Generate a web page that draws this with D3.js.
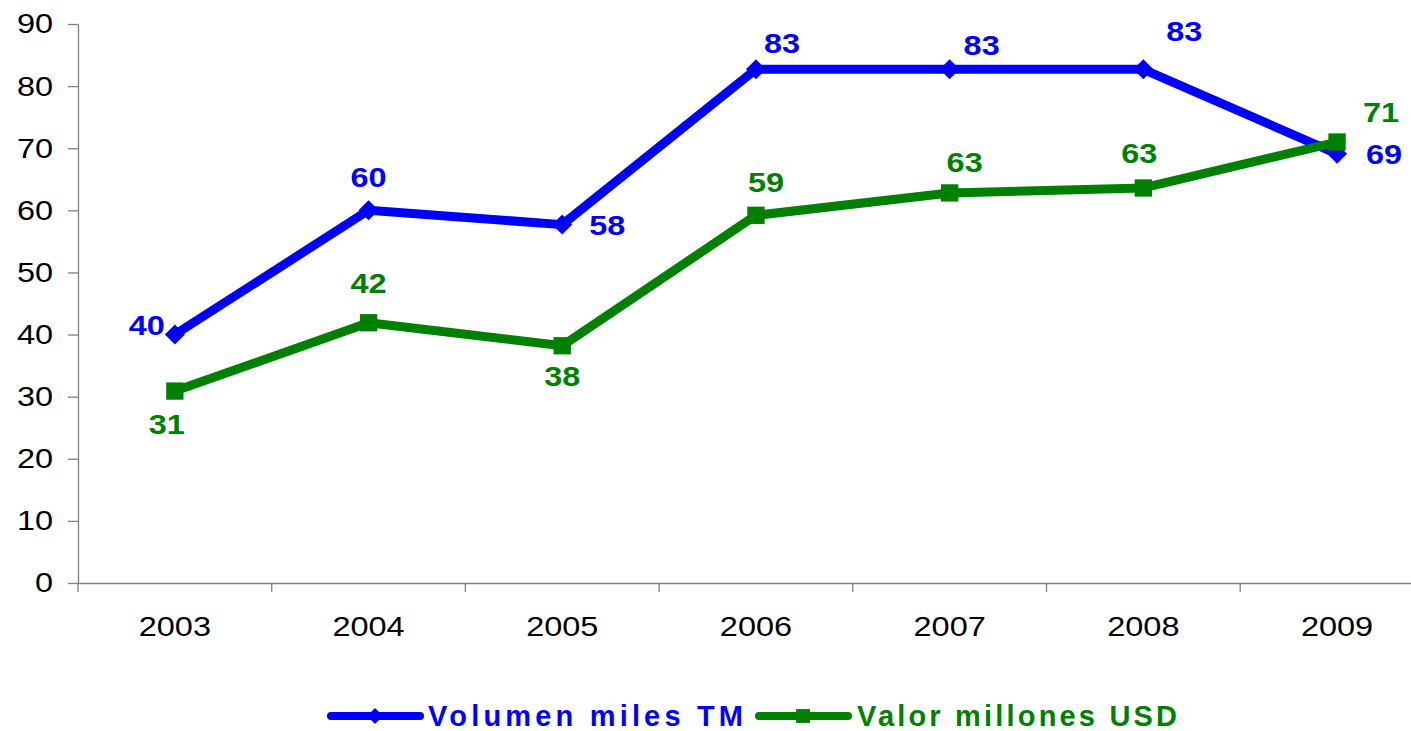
<!DOCTYPE html>
<html>
<head>
<meta charset="utf-8">
<script src="https://d3js.org/d3.v7.min.js"></script>
<style>
  body { margin: 0; background: #fff; }
  svg text { font-family: "Liberation Sans", Arial, sans-serif; }
</style>
</head>
<body>
<div id="chart"></div>
<script>
// Data
var years = ["2003", "2004", "2005", "2006", "2007", "2008", "2009"];
var volumen = [40, 60, 57.7, 82.7, 82.7, 82.7, 69.1];
var valor = [30.9, 41.9, 38.2, 59.2, 62.8, 63.6, 71.0];
var volumenLabels = ["40", "60", "58", "83", "83", "83", "69"];
var valorLabels = ["31", "42", "38", "59", "63", "63", "71"];
var yTicks = [0, 10, 20, 30, 40, 50, 60, 70, 80, 90];

// label centre offsets (px) relative to the point
var volOffsets = [[-28, -10], [0, -33], [45, 0], [26, -26], [32, -24], [41, -38], [47, 0]];
var valOffsets = [[-8, 33], [0, -40], [0, 30], [10, -33], [15, -31], [-4, -35], [44, -30]];

var width = 1411, height = 731;
var margin = {left: 78, top: 24};
var bandW = 193.7;
var stretch = 1.16; // the original text is drawn a little wide

var svg = d3.select("#chart").append("svg")
  .attr("width", width).attr("height", height);

var x = d3.scaleBand().domain(years)
  .range([margin.left, margin.left + bandW * years.length]);
var y = d3.scaleLinear().domain([0, 90]).range([583, margin.top]);

// y axis
var yAxis = svg.append("g")
  .attr("transform", "translate(" + margin.left + ",0)")
  .call(d3.axisLeft(y).tickValues(yTicks).tickSize(10).tickSizeOuter(0));
yAxis.select(".domain").attr("stroke", "#808080").attr("stroke-width", 1.3);
yAxis.selectAll(".tick line").attr("stroke", "#808080").attr("stroke-width", 1.3);
yAxis.selectAll("text")
  .attr("x", -25 / stretch)
  .attr("transform", "scale(" + stretch + ",1)")
  .attr("font-size", 28).attr("fill", "#000");

// x axis
var xAxis = svg.append("g")
  .attr("transform", "translate(0,583)")
  .call(d3.axisBottom(x).tickSize(0).tickPadding(33));
xAxis.select(".domain").attr("stroke", "#808080").attr("stroke-width", 1.3);
xAxis.selectAll("text")
  .attr("transform", "scale(" + stretch + ",1)")
  .attr("font-size", 28).attr("fill", "#000");
// boundary ticks between categories
svg.append("g").selectAll("line")
  .data(years)
  .join("line")
  .attr("x1", d => x(d)).attr("x2", d => x(d))
  .attr("y1", 583).attr("y2", 592)
  .attr("stroke", "#808080").attr("stroke-width", 1.3);

var cx = d => x(d) + x.bandwidth() / 2;

var line = d3.line()
  .x((d, i) => cx(years[i]))
  .y(d => y(d));

// diamond = square turned 45 degrees
var diamond = d3.symbol().type(d3.symbolSquare).size(200);
var square = d3.symbol().type(d3.symbolSquare).size(300);

function drawSeries(values, color, sym, rot, labels, offsets) {
  svg.append("path")
    .datum(values)
    .attr("d", line)
    .attr("fill", "none")
    .attr("stroke", color)
    .attr("stroke-width", 9)
    .attr("stroke-linejoin", "round");
  svg.append("g").selectAll("path")
    .data(values)
    .join("path")
    .attr("d", sym)
    .attr("transform", (d, i) => "translate(" + cx(years[i]) + "," + y(d) + ") rotate(" + rot + ")")
    .attr("fill", color);
  svg.append("g").selectAll("text")
    .data(values)
    .join("text")
    .attr("transform", (d, i) => "translate(" + (cx(years[i]) + offsets[i][0]) + "," +
      (y(d) + offsets[i][1]) + ") scale(" + stretch + ",1)")
    .attr("dy", "0.36em")
    .attr("text-anchor", "middle")
    .attr("font-size", 28)
    .attr("font-weight", "bold")
    .attr("fill", color)
    .text((d, i) => labels[i]);
}

drawSeries(volumen, "#0000ff", diamond, 45, volumenLabels, volOffsets);
drawSeries(valor, "#008000", square, 0, valorLabels, valOffsets);

// legend
var legend = [
  {name: "Volumen miles TM", color: "#0000ff", sym: diamond, rot: 45, x0: 331, tx: 428, w: 315},
  {name: "Valor millones USD", color: "#008000", sym: square, rot: 0, x0: 759, tx: 857, w: 320}
];
var ly = 716;
legend.forEach(function(l) {
  svg.append("line")
    .attr("x1", l.x0).attr("x2", l.x0 + 89)
    .attr("y1", ly).attr("y2", ly)
    .attr("stroke", l.color).attr("stroke-width", 8)
    .attr("stroke-linecap", "round");
  svg.append("path")
    .attr("d", l.sym)
    .attr("transform", "translate(" + (l.x0 + 44) + "," + ly + ") rotate(" + l.rot + ") scale(0.8)")
    .attr("fill", l.color);
  svg.append("text")
    .attr("x", l.tx).attr("y", ly)
    .attr("dy", "0.36em")
    .attr("font-size", 29)
    .attr("font-weight", "bold")
    .attr("textLength", l.w)
    .attr("lengthAdjust", "spacing")
    .attr("fill", l.color)
    .text(l.name);
});
</script>
</body>
</html>
